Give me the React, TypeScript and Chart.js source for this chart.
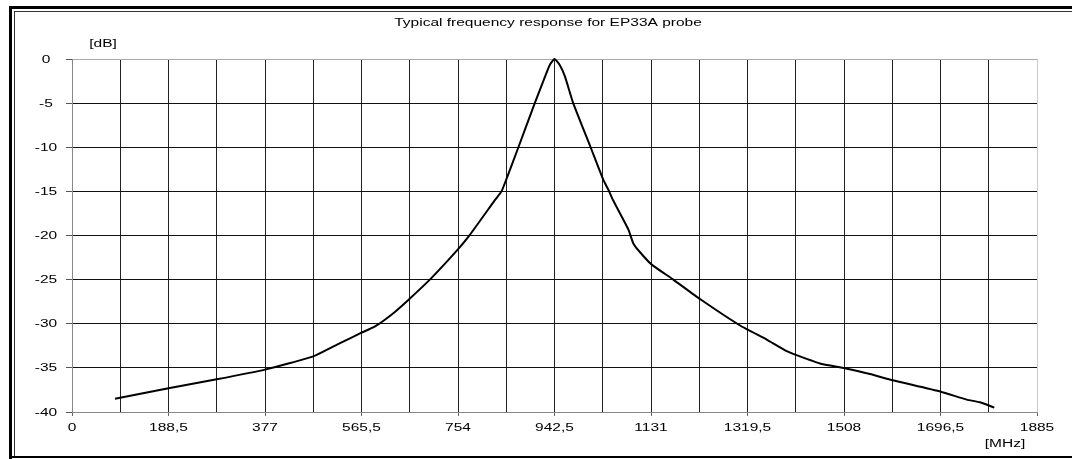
import { useEffect, useRef } from 'react';
import { Chart, registerables } from 'chart.js';

Chart.register(...registerables);

// Measured response of the EP33A probe
const frequencyMHz = [
  84, 188.5, 282.75, 377, 471.25, 523.5, 562.6, 591.9, 627.7, 657, 699, 753.4, 777.5, 826, 839, 848,
  872, 904, 924, 933, 942.5, 953, 963, 979, 1013, 1037.9, 1047.6, 1057, 1086.7, 1096.5, 1109.6,
  1132.4, 1174.6, 1226.7, 1305, 1357, 1396, 1422, 1461, 1509.4, 1558.8, 1603, 1697, 1747.7, 1773.7, 1801.6,
];
const responseDb = [
  -38.5, -37.3, -36.3, -35.2, -33.7, -32.2, -31.1, -30.3, -28.8, -27.3, -25.0, -21.6, -19.9, -16.0, -15.0, -13.7,
  -10, -5, -2.0, -0.7, 0, -0.7, -2.0, -5, -10, -13.7, -14.8, -16.0, -19.3, -20.9, -21.9,
  -23.3, -25.0, -27.2, -30.2, -31.8, -33.1, -33.7, -34.5, -35.05, -35.7, -36.4, -37.7, -38.6, -38.9, -39.5,
];

// Axis labelling
const xTickLabels = ['0', '188,5', '377', '565,5', '754', '942,5', '1131', '1319,5', '1508', '1696,5', '1885'];
const yTickValues = [0, -5, -10, -15, -20, -25, -30, -35, -40];
const titleText = 'Typical frequency response for EP33A probe';
const yUnitText = '[dB]';
const xUnitText = '[MHz]';

const X_MIN = 0;
const X_MAX = 1885;
const X_GRID_STEP = 94.25;
const Y_MIN = -40;
const Y_MAX = 0;

const FONT = '10px "Liberation Sans", Arial, sans-serif';
const TEXT_STRETCH = 1.55;

function drawWideText(ctx: CanvasRenderingContext2D, text: string, x: number, y: number) {
  ctx.save();
  ctx.translate(x, y);
  ctx.scale(TEXT_STRETCH, 1);
  ctx.font = FONT;
  ctx.fillStyle = '#000';
  ctx.textAlign = 'center';
  ctx.textBaseline = 'alphabetic';
  ctx.fillText(text, 0, 0);
  ctx.restore();
}

// Double frame around the whole figure
const framePlugin = {
  id: 'figureFrame',
  beforeDraw(chart: any) {
    const ctx: CanvasRenderingContext2D = chart.ctx;
    ctx.save();
    ctx.fillStyle = '#fff';
    ctx.fillRect(0, 0, chart.width, chart.height);
    ctx.fillStyle = '#000';
    ctx.fillRect(9, 6, chart.width - 9, 3);
    ctx.fillRect(9, 6, 3, chart.height - 6);
    ctx.fillRect(9, 456, chart.width - 9, 2);
    ctx.fillStyle = '#333';
    ctx.fillRect(14, 11, chart.width - 14, 1);
    ctx.fillRect(14, 11, 1, 445);
    ctx.restore();
  },
};

// Title, units and tick labels
const labelPlugin = {
  id: 'wideLabels',
  afterDraw(chart: any) {
    const ctx: CanvasRenderingContext2D = chart.ctx;
    const xs = chart.scales.x;
    const ys = chart.scales.y;
    drawWideText(ctx, titleText, 548, 25.5);
    drawWideText(ctx, yUnitText, 103, 47);
    drawWideText(ctx, xUnitText, 1005, 447);
    yTickValues.forEach((v) => {
      drawWideText(ctx, String(v), 46, ys.getPixelForValue(v) + 3.6);
    });
    xTickLabels.forEach((label) => {
      const v = parseFloat(label.replace(',', '.'));
      drawWideText(ctx, label, xs.getPixelForValue(v), 431);
    });
  },
};

export default function App() {
  const canvasRef = useRef<HTMLCanvasElement>(null);

  useEffect(() => {
    const canvas = canvasRef.current;
    if (!canvas) return;
    const points = frequencyMHz.map((x, i) => ({ x, y: responseDb[i] }));

    const chart = new Chart(canvas, {
      type: 'line',
      data: {
        datasets: [
          {
            data: points,
            borderColor: '#000',
            borderWidth: 2,
            pointRadius: 0,
            fill: false,
            tension: 0.15,
            clip: 4,
          },
        ],
      },
      options: {
        animation: false,
        responsive: false,
        devicePixelRatio: 1,
        events: [],
        layout: { padding: { left: 0, top: 59, right: 35, bottom: 0 } },
        plugins: {
          legend: { display: false },
          tooltip: { enabled: false },
          title: { display: false },
        },
        scales: {
          x: {
            type: 'linear',
            min: X_MIN,
            max: X_MAX,
            ticks: { display: false, stepSize: X_GRID_STEP, autoSkip: false },
            grid: {
              drawTicks: true,
              tickLength: 4,
              lineWidth: 1,
              color: (c: any) => {
                const v = c.tick ? c.tick.value : 0;
                if (v === X_MIN) return '#888';
                if (v === X_MAX) return '#ccc';
                return '#222';
              },
              tickColor: (c: any) => (c.index % 2 === 0 ? '#666' : 'rgba(0,0,0,0)'),
            },
            border: { display: true, color: '#888', width: 1 },
            afterFit: (s: any) => {
              s.height = 47;
            },
          },
          y: {
            type: 'linear',
            min: Y_MIN,
            max: Y_MAX,
            ticks: { display: false, stepSize: 5 },
            grid: {
              drawTicks: true,
              tickLength: 6,
              lineWidth: 1,
              color: (c: any) => {
                const v = c.tick ? c.tick.value : 0;
                if (v === Y_MAX) return '#aaa';
                if (v === Y_MIN) return '#888';
                return '#111';
              },
              tickColor: '#555',
            },
            border: { display: true, color: '#888', width: 1 },
            afterFit: (s: any) => {
              s.width = 72;
            },
          },
        },
      },
      plugins: [framePlugin, labelPlugin],
    } as any);

    return () => chart.destroy();
  }, []);

  return (
    <div style={{ position: 'absolute', left: 0, top: 0, width: 1072, height: 459, background: '#fff' }}>
      <canvas ref={canvasRef} width={1072} height={459} style={{ display: 'block', width: 1072, height: 459 }} />
    </div>
  );
}
